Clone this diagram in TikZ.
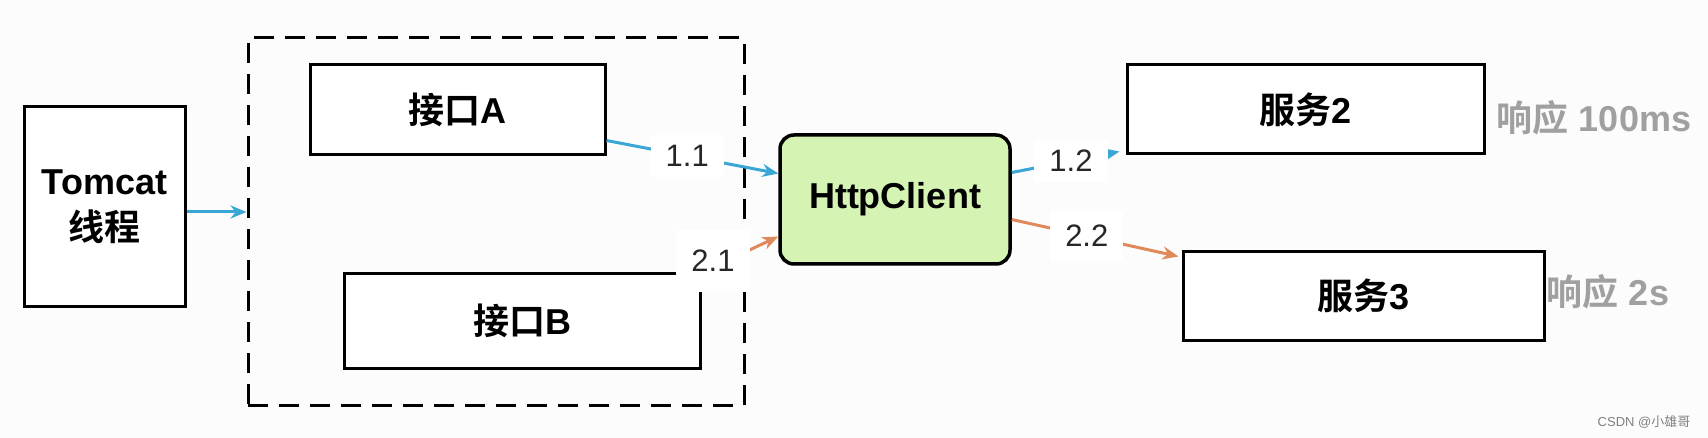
\documentclass[tikz,border=0pt]{standalone}
\usepackage{fontspec}
\setmainfont{Liberation Sans}
\newfontfamily\cjk{Noto Sans CJK SC}[BoldFont={Noto Sans CJK SC Bold}]
\usetikzlibrary{arrows.meta,calc}
\definecolor{acc}{HTML}{3AA6D6}
\definecolor{warn}{HTML}{E0895A}
\definecolor{ok}{HTML}{D5F4B3}
\definecolor{lt}{HTML}{FCFCFD}
\definecolor{gr}{HTML}{A0A0A0}
\newcommand{\zh}[1]{{\cjk #1}}
\tikzset{
  box/.style={draw=black,line width=3pt,fill=white,align=center,inner sep=0pt,font=\fontsize{36}{46}\selectfont\bfseries},
  gbox/.style={box,fill=ok,line width=3.5pt,rounded corners=14pt},
  dbox/.style={draw=black,line width=3pt,dash pattern=on 20pt off 11pt},
  lbl/.style={fill=white,inner xsep=15pt,inner ysep=10pt,font=\fontsize{31}{36}\selectfont,text=black!85},
  ar/.style={-{Stealth[length=16pt,width=13pt]},line width=3pt,draw=acc},
  oar/.style={ar,draw=warn},
  note/.style={text=gr,font=\fontsize{36}{40}\selectfont\bfseries},
}
\begin{document}
\begin{tikzpicture}[x=1pt,y=-1pt]
\fill[lt] (0,0) rectangle (1708,438);
% boxes
\node[box,minimum width=161pt,minimum height=200pt] (tomcat) at (104.5,207) {Tomcat\\\zh{线程}};
\node[dbox,minimum width=496pt,minimum height=367pt] (grp) at (496,221.5) {};
\node[box,minimum width=295pt,minimum height=90pt] (ifa) at (457.5,110) {\zh{接口}A};
\node[box,minimum width=356pt,minimum height=94pt] (ifb) at (522,321) {\zh{接口}B};
\node[gbox,minimum width=230pt,minimum height=129pt] (hc) at (895,199.5) {HttpClient};
\node[box,minimum width=357pt,minimum height=89pt] (svc2) at (1305.5,109.5) {\zh{服务}2};
\node[box,minimum width=361pt,minimum height=88pt] (svc3) at (1363.5,296) {\zh{服务}3};
% response times
\node[note] (t2) at (1594,118) {\zh{响应} 100ms};
\node[note] (t3) at (1608,292) {\zh{响应} 2s};
\node[font=\fontsize{13}{15}\selectfont,text=gray] (wm) at (1644,422) {CSDN @\zh{小雄哥}};
% calls
\draw[ar] ($(tomcat.east)+(0,5)$) -- ($(tomcat.east -| grp.west)+(0,5)$);
\draw[ar] ($(ifa.south east)+(0,-16)$) -- node[lbl,pos=0.47] (l11) {1.1} ($(hc.west)+(0,-26)$);
\draw[oar] (ifb.north east) -- node[lbl,pos=0.15,yshift=6pt,inner ysep=20pt] (l21) {2.1} ($(hc.west)+(0,37)$);
\draw[ar] ($(hc.east)+(0,-27)$) -- node[lbl,pos=0.55] (l12) {1.2} ($(svc2.south west)+(-6,-4)$);
\draw[oar] ($(hc.east)+(0,20)$) -- node[lbl,pos=0.45,inner ysep=14pt] (l22) {2.2} ($(svc3.north west)+(-3,6)$);
\end{tikzpicture}
\end{document}
